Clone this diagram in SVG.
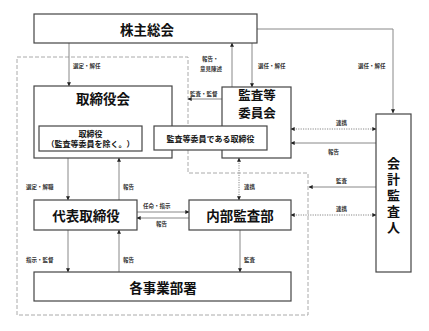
<svg xmlns="http://www.w3.org/2000/svg" width="429" height="331" viewBox="0 0 429 331">
<defs>
<marker id="ah" viewBox="0 0 6 6" refX="5.5" refY="3" markerWidth="4" markerHeight="4" orient="auto-start-reverse" markerUnits="userSpaceOnUse"><path d="M0,0 L6,3 L0,6 z" fill="#222"/></marker>
<style>
.box{fill:#fff;stroke:#444;stroke-width:1.2}
.t{font-family:"Noto Sans CJK JP","Noto Sans",sans-serif;font-weight:bold;fill:#111;text-anchor:middle;dominant-baseline:central}
.big{font-size:13.5px}
.mid{font-size:8px}
.lab{font-family:"Noto Sans CJK JP","Noto Sans",sans-serif;font-size:5.5px;font-weight:bold;fill:#333;dominant-baseline:central}
.ln{stroke:#888;stroke-width:1;fill:none}
.dot{stroke:#888;stroke-width:1;fill:none;stroke-dasharray:1.2,1.2}
.dash{stroke:#aaa;stroke-width:1;fill:none;stroke-dasharray:4,2}
</style>
</defs>
<rect width="429" height="331" fill="#fff"/>
<path class="dash" d="M17,57 H188 V173 H308 V315 H17 Z"/>
<g id="connectors">
<path class="ln" d="M257,29 H393 V113" marker-end="url(#ah)"/>
<path class="ln" d="M69,43 V86" marker-end="url(#ah)"/>
<path class="ln" d="M232,87 V43" marker-end="url(#ah)"/>
<path class="ln" d="M252,43 V87" marker-end="url(#ah)"/>
<path class="ln" d="M222,99 H188" marker-end="url(#ah)"/>
<path class="ln" d="M68,158 V200" marker-end="url(#ah)"/>
<path class="ln" d="M119,200 V158" marker-end="url(#ah)"/>
<path class="dot" d="M239,158 V200" marker-start="url(#ah)" marker-end="url(#ah)"/>
<path class="dot" d="M291,129 H376" marker-start="url(#ah)" marker-end="url(#ah)"/>
<path class="ln" d="M376,143 H291" marker-end="url(#ah)"/>
<path class="ln" d="M376,187 H309" marker-end="url(#ah)"/>
<path class="dot" d="M291,215 H376" marker-start="url(#ah)" marker-end="url(#ah)"/>
<path class="ln" d="M137,212 H189" marker-end="url(#ah)"/>
<path class="ln" d="M189,218 H137" marker-end="url(#ah)"/>
<path class="ln" d="M68,230 V272" marker-end="url(#ah)"/>
<path class="ln" d="M119,272 V230" marker-end="url(#ah)"/>
<path class="ln" d="M240,230 V272" marker-end="url(#ah)"/>
<text class="lab" x="358" y="66">選任・解任</text>
<text class="lab" x="73" y="66">選定・解任</text>
<text class="lab" x="202" y="59">報告・</text>
<text class="lab" x="200" y="69">意見陳述</text>
<text class="lab" x="258" y="66">選任・解任</text>
<text class="lab" x="190" y="94">監査・監督</text>
<text class="lab" x="26" y="187">選定・解職</text>
<text class="lab" x="123" y="187">報告</text>
<text class="lab" x="244" y="187">連携</text>
<text class="lab" x="336" y="123">連携</text>
<text class="lab" x="328" y="152">報告</text>
<text class="lab" x="336" y="181">監査</text>
<text class="lab" x="336" y="209">連携</text>
<text class="lab" x="143" y="206">任命・指示</text>
<text class="lab" x="156" y="224">報告</text>
<text class="lab" x="26" y="260">指示・監督</text>
<text class="lab" x="123" y="260">報告</text>
<text class="lab" x="244" y="260">監査</text>
</g>
<g id="kabunushi"><rect class="box" x="34" y="14" width="223" height="29"/><text class="t big" x="147" y="29">株主総会</text></g>
<g id="torishimariyakukai"><rect class="box" x="34" y="86" width="138" height="72"/><text class="t big" x="103" y="98">取締役会</text></g>
<g id="torishimariyaku"><rect class="box" x="39" y="126" width="103" height="25"/><text class="t mid" x="90.5" y="133">取締役</text><text class="t mid" x="90.5" y="143.5">（監査等委員を除く。）</text></g>
<g id="kansatouiinkai"><rect class="box" x="222" y="87" width="69" height="71"/><text class="t" style="font-size:12.5px" x="257" y="94">監査等</text><text class="t" style="font-size:12.5px" x="257" y="112.5">委員会</text></g>
<g id="kansatouiin-torishimariyaku"><rect class="box" x="154" y="126" width="113" height="24"/><text class="t mid" x="210.5" y="138">監査等委員である取締役</text></g>
<g id="kaikeikansanin"><rect class="box" x="376" y="114" width="35" height="158"/>
<text class="t" style="font-size:13px;writing-mode:vertical-rl;letter-spacing:3px" x="393.5" y="197">会計監査人</text></g>
<g id="daihyo"><rect class="box" x="34" y="200" width="103" height="30"/><text class="t big" x="86" y="215">代表取締役</text></g>
<g id="naibukansa"><rect class="box" x="189" y="200" width="102" height="30"/><text class="t big" x="240" y="215">内部監査部</text></g>
<g id="jigyobusho"><rect class="box" x="34" y="272" width="257" height="29"/><text class="t big" x="163" y="287">各事業部署</text></g>
</svg>
